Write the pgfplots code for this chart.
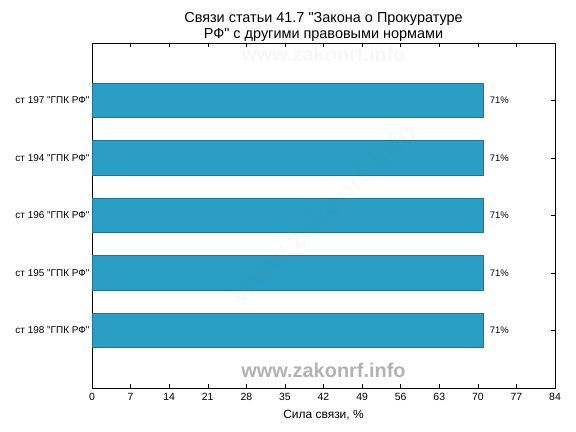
\documentclass[border=0pt]{standalone}
\usepackage{pgfplots}
\pgfplotsset{compat=1.18}
\usepackage{fontspec}
\setmainfont{Liberation Sans}
\definecolor{barfill}{RGB}{42,158,196}
\definecolor{baredge}{RGB}{30,118,150}
\definecolor{wm}{RGB}{178,178,178}
\begin{document}
\begin{tikzpicture}
\path[use as bounding box] (0,0) rectangle (576bp,432bp);
\begin{axis}[
  at={(92bp,44bp)}, anchor=south west,
  scale only axis, width=463bp, height=345bp,
  xbar, bar width=0.6,
  y=57.5bp,
  xmin=0, xmax=84, ymin=-1, ymax=5,
  xtick={0,7,...,84},
  ytick={0,1,2,3,4},
  yticklabels={ст 198 \textquotedbl ГПК РФ\textquotedbl,ст 195 \textquotedbl ГПК РФ\textquotedbl,ст 196 \textquotedbl ГПК РФ\textquotedbl,ст 194 \textquotedbl ГПК РФ\textquotedbl,ст 197 \textquotedbl ГПК РФ\textquotedbl},
  tick align=inside,
  major tick length=4bp,
  tick style={black, line width=0.5pt},
  axis line style={black, line width=0.9pt},
  /pgf/number format/assume math mode=true,
  x tick label style={font=\fontsize{10.5}{12}\selectfont, yshift=-2bp},
  y tick label style={font=\fontsize{10}{12}\selectfont, xshift=1bp},
  xlabel={Сила связи, \%},
  xlabel style={font=\fontsize{12}{14}\selectfont, yshift=-2bp},
  title={Связи статьи 41.7 \textquotedbl Закона о Прокуратуре\\РФ\textquotedbl{} с другими правовыми нормами},
  title style={font=\fontsize{14.5}{16}\selectfont, align=center, yshift=-8bp},
  nodes near coords={\pgfmathprintnumber{\pgfplotspointmeta}\%},
  every node near coord/.append style={font=\fontsize{9.5}{12}\selectfont, anchor=west, xshift=3bp},
  clip=false,
]
\addplot[fill=barfill, draw=baredge, line width=0.6pt] coordinates {(71,0) (71,1) (71,2) (71,3) (71,4)};
\node[font=\bfseries\fontsize{20}{24}\selectfont, text=wm] at (axis cs:42,-0.7) {www.zakonrf.info};
\node[font=\bfseries\fontsize{20}{24}\selectfont, text=black, text opacity=0.03] at (axis cs:42,4.8) {www.zakonrf.info};
\node[font=\bfseries\fontsize{30}{36}\selectfont, text=gray, text opacity=0.04, rotate=44] at (axis cs:42,2.05) {www.zakonrf.info};
\end{axis}
\end{tikzpicture}
\end{document}
